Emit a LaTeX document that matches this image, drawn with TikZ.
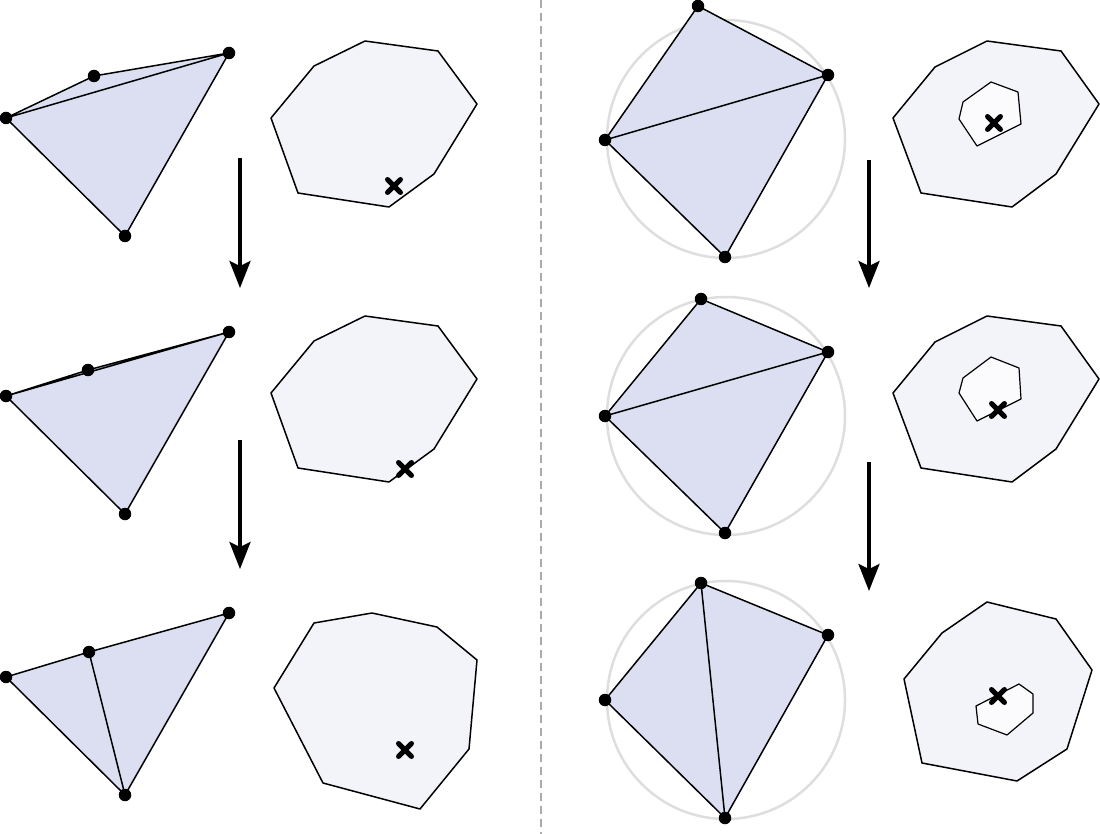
\documentclass[tikz,border=0pt]{standalone}
\usetikzlibrary{arrows.meta}
\definecolor{trifill}{RGB}{220,223,241}
\definecolor{polyfill}{RGB}{243,244,250}
\definecolor{innerfill}{RGB}{251,251,254}
\definecolor{circgray}{RGB}{222,222,222}
\definecolor{dashgray}{RGB}{170,170,170}
\begin{document}
\begin{tikzpicture}[x=1pt,y=-1pt,
  vtx/.style={circle,fill=black,inner sep=0pt,minimum size=12.5pt},
  edgeline/.style={line width=1.5pt,line join=round},
  trishape/.style={fill=trifill},
  polyshape/.style={fill=polyfill,draw=black,line width=1.5pt,line join=round},
  innershape/.style={fill=innerfill,draw=black,line width=1.2pt,line join=round},
  circum/.style={draw=circgray,line width=2.5pt},
  bigarrow/.style={line width=3.5pt,-{Stealth[length=27pt,width=21pt,inset=5pt]}},
  separator/.style={draw=dashgray,line width=1.8pt,dash pattern=on 8pt off 5pt},
  crossmark/.pic={\draw[line width=5pt,line cap=round] (-6.5,-6.5)--(6.5,6.5) (-6.5,6.5)--(6.5,-6.5);}
]
\useasboundingbox (0,0) rectangle (1100,834);

% separator
\coordinate (sepTop) at (541,0);
\coordinate (sepBot) at (541,834);
\draw[separator] (sepTop) -- (sepBot);

% ---------- left column: triangles ----------
% row 1
\coordinate (a1) at (6,118); \coordinate (b1) at (94,76);
\coordinate (c1) at (229,53); \coordinate (d1) at (125,236);
\fill[trishape] (a1) -- (b1) -- (c1) -- (d1) -- cycle;
\draw[edgeline] (a1) -- (b1) -- (c1) -- (d1) -- (a1) -- (c1);
\foreach \p in {a1,b1,c1,d1} \node[vtx] (n\p) at (\p) {};

% row 2
\coordinate (a2) at (6,396); \coordinate (b2) at (88,370);
\coordinate (c2) at (229,332); \coordinate (d2) at (125,514);
\fill[trishape] (a2) -- (b2) -- (c2) -- (d2) -- cycle;
\draw[edgeline] (a2) -- (b2) -- (c2) -- (d2) -- (a2) -- (c2);
\foreach \p in {a2,b2,c2,d2} \node[vtx] (n\p) at (\p) {};

% row 3
\coordinate (a3) at (6,677); \coordinate (b3) at (89,652);
\coordinate (c3) at (229,613); \coordinate (d3) at (125,795);
\fill[trishape] (a3) -- (b3) -- (c3) -- (d3) -- cycle;
\draw[edgeline] (a3) -- (b3) -- (c3) -- (d3) -- (a3);
\draw[edgeline] (b3) -- (d3);
\foreach \p in {a3,b3,c3,d3} \node[vtx] (n\p) at (\p) {};

% left arrows
\coordinate (la1s) at (240,158); \coordinate (la1e) at (240,288);
\coordinate (la2s) at (240,440); \coordinate (la2e) at (240,569);
\draw[bigarrow] (la1s) -- (la1e);
\draw[bigarrow] (la2s) -- (la2e);

% left polygons
\draw[polyshape] (365,41) -- (438,51) -- (477,104) -- (434,174) -- (389,207) -- (298,193) -- (271,118) -- (314,66) -- cycle;
\pic at (394,186) {crossmark};

\draw[polyshape] (365,316) -- (438,326) -- (477,379) -- (434,449) -- (389,482) -- (298,468) -- (271,393) -- (314,341) -- cycle;
\pic at (405,469) {crossmark};

\draw[polyshape] (372,613) -- (437,627) -- (477,660) -- (469,749) -- (420,809) -- (323,783) -- (274,688) -- (314,623) -- cycle;
\pic at (405,750) {crossmark};

% ---------- right column: quads with circumcircles ----------
% row 1
\draw[circum] (726,139) circle[radius=119];
\coordinate (p1) at (698,6); \coordinate (q1) at (828,75);
\coordinate (r1) at (725,257); \coordinate (s1) at (605,140);
\fill[trishape] (p1) -- (q1) -- (r1) -- (s1) -- cycle;
\draw[edgeline] (p1) -- (q1) -- (r1) -- (s1) -- cycle;
\draw[edgeline] (s1) -- (q1);
\foreach \p in {p1,q1,r1,s1} \node[vtx] (n\p) at (\p) {};

% row 2
\draw[circum] (726,416) circle[radius=119];
\coordinate (p2) at (701,299); \coordinate (q2) at (828,352);
\coordinate (r2) at (725,533); \coordinate (s2) at (605,416);
\fill[trishape] (p2) -- (q2) -- (r2) -- (s2) -- cycle;
\draw[edgeline] (p2) -- (q2) -- (r2) -- (s2) -- cycle;
\draw[edgeline] (s2) -- (q2);
\foreach \p in {p2,q2,r2,s2} \node[vtx] (n\p) at (\p) {};

% row 3
\draw[circum] (726,700) circle[radius=119];
\coordinate (p3) at (701,583); \coordinate (q3) at (828,635);
\coordinate (r3) at (725,818); \coordinate (s3) at (605,700);
\fill[trishape] (p3) -- (q3) -- (r3) -- (s3) -- cycle;
\draw[edgeline] (p3) -- (q3) -- (r3) -- (s3) -- cycle;
\draw[edgeline] (p3) -- (r3);
\foreach \p in {p3,q3,r3,s3} \node[vtx] (n\p) at (\p) {};

% right arrows
\coordinate (ra1s) at (869,160); \coordinate (ra1e) at (869,288);
\coordinate (ra2s) at (869,462); \coordinate (ra2e) at (869,591);
\draw[bigarrow] (ra1s) -- (ra1e);
\draw[bigarrow] (ra2s) -- (ra2e);

% right polygons
\draw[polyshape] (987,41) -- (1061,51) -- (1099,104) -- (1056,174) -- (1012,207) -- (921,193) -- (893,118) -- (935,67) -- cycle;
\draw[innershape] (991,82) -- (1018,92) -- (1021,124) -- (977,146) -- (959,119) -- (963,102) -- cycle;
\pic at (994,123) {crossmark};

\draw[polyshape] (987,316) -- (1061,326) -- (1099,379) -- (1056,449) -- (1012,482) -- (921,468) -- (893,393) -- (935,342) -- cycle;
\draw[innershape] (991,357) -- (1019,368) -- (1021,399) -- (977,421) -- (959,393) -- (963,378) -- cycle;
\pic at (998,410) {crossmark};

\draw[polyshape] (987,602) -- (1056,619) -- (1092,670) -- (1067,749) -- (1017,781) -- (922,763) -- (904,679) -- (942,633) -- cycle;
\draw[innershape] (1019,684) -- (1033,694) -- (1033,713) -- (1007,735) -- (978,724) -- (976,706) -- cycle;
\pic at (998,696) {crossmark};
\end{tikzpicture}
\end{document}
